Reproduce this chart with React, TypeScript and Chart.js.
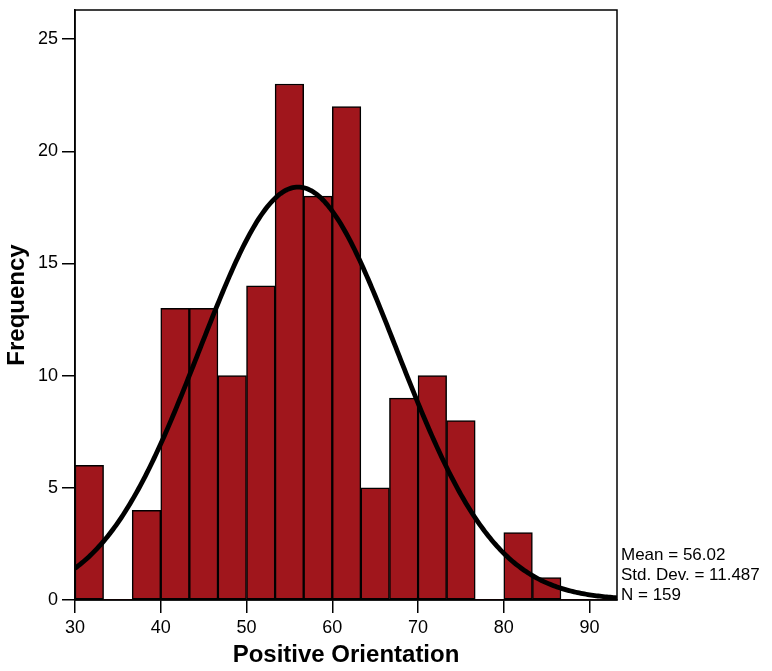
import React, { useEffect, useRef } from "react";
import { Chart, registerables } from "chart.js";

Chart.register(...registerables);

// Histogram data (bins of width 10/3 starting at 30)
const binStart = 30;
const binWidth = 10 / 3;
const frequencies = [6, 0, 4, 13, 13, 10, 14, 23, 18, 22, 5, 9, 10, 8, 0, 3, 1, 0, 0];

// Summary statistics shown in the legend
const mean = 56.02;
const stdDev = 11.487;
const n = 159;
const statsLines = ["Mean = 56.02", "Std. Dev. = 11.487", "N = 159"];

// Axis settings
const xMin = 30;
const xMax = 93.2;
const yMax = 26.3;
const xTitle = "Positive Orientation";
const yTitle = "Frequency";

const FONT = "'Liberation Sans', Arial, Helvetica, sans-serif";
const BAR_COLOR = "rgb(160,22,28)";

export default function App() {
  const ref = useRef<HTMLCanvasElement | null>(null);

  useEffect(() => {
    if (!ref.current) return;

    const barData = frequencies.map((f, i) => ({ x: binStart + binWidth * (i + 0.5), y: f }));

    // Fitted normal curve scaled to counts (N * bin width * pdf)
    const curve: { x: number; y: number }[] = [];
    for (let x = xMin; x <= xMax + 1e-9; x += 0.2) {
      const z = (x - mean) / stdDev;
      const pdf = Math.exp(-0.5 * z * z) / (stdDev * Math.sqrt(2 * Math.PI));
      curve.push({ x, y: n * binWidth * pdf });
    }

    const framePlugin = {
      id: "frame",
      afterDraw(chart: any) {
        const { ctx, chartArea } = chart;
        ctx.save();
        ctx.strokeStyle = "#000";
        ctx.lineWidth = 1.5;
        ctx.strokeRect(chartArea.left, chartArea.top, chartArea.right - chartArea.left, chartArea.bottom - chartArea.top);
        ctx.fillStyle = "#000";
        ctx.font = `17px ${FONT}`;
        ctx.textAlign = "left";
        ctx.textBaseline = "alphabetic";
        statsLines.forEach((t, i) => {
          ctx.fillText(t, chartArea.right + 4, chartArea.bottom - 40 + i * 20);
        });
        ctx.restore();
      },
    };

    const chart = new Chart(ref.current, {
      type: "bar",
      data: {
        datasets: [
          {
            type: "line",
            data: curve,
            borderColor: "#000",
            borderWidth: 4.8,
            pointRadius: 0,
            tension: 0,
            order: 0,
          } as any,
          {
            type: "bar",
            data: barData,
            backgroundColor: BAR_COLOR,
            borderColor: "#000",
            borderWidth: (c: any) => (c.raw && c.raw.y > 0 ? 1.5 : 0),
            borderSkipped: false,
            barPercentage: 1,
            categoryPercentage: 1,
            order: 1,
          } as any,
        ],
      },
      options: {
        responsive: false,
        animation: false,
        layout: { padding: { left: 0, right: 155, top: 10, bottom: 0 } },
        plugins: { legend: { display: false }, tooltip: { enabled: false } },
        scales: {
          x: {
            type: "linear",
            min: xMin,
            max: xMax,
            offset: false,
            afterFit: (s: any) => {
              s.height = 71;
              s.paddingLeft = 0;
              s.paddingRight = 0;
            },
            ticks: {
              stepSize: 10,
              includeBounds: false,
              color: "#000",
              padding: 4,
              font: { family: FONT, size: 18 },
              maxRotation: 0,
            },
            grid: {
              display: true,
              offset: false,
              drawOnChartArea: false,
              drawTicks: true,
              tickLength: 13,
              color: "#000",
              lineWidth: 1.5,
            },
            border: { display: true, color: "#000", width: 1.5 },
            title: {
              display: true,
              text: xTitle,
              color: "#000",
              font: { family: FONT, size: 24, weight: "bold" },
              padding: { top: 0, bottom: 1 },
            },
          },
          y: {
            type: "linear",
            min: 0,
            max: yMax,
            afterFit: (s: any) => {
              s.width = 75;
              s.paddingTop = 0;
              s.paddingBottom = 0;
            },
            ticks: {
              stepSize: 5,
              includeBounds: false,
              color: "#000",
              padding: 4,
              font: { family: FONT, size: 18 },
            },
            grid: {
              display: true,
              drawOnChartArea: false,
              drawTicks: true,
              tickLength: 13,
              color: "#000",
              lineWidth: 1.5,
            },
            border: { display: true, color: "#000", width: 1.5 },
            title: {
              display: true,
              text: yTitle,
              color: "#000",
              font: { family: FONT, size: 24, weight: "bold" },
              padding: { top: 3, bottom: 0 },
            },
          },
        },
      },
      plugins: [framePlugin],
    });

    return () => chart.destroy();
  }, []);

  return (
    <div style={{ position: "absolute", left: 0, top: 0, width: 772, height: 671, background: "#fff" }}>
      <canvas ref={ref} width={772} height={671} style={{ display: "block" }} />
    </div>
  );
}
